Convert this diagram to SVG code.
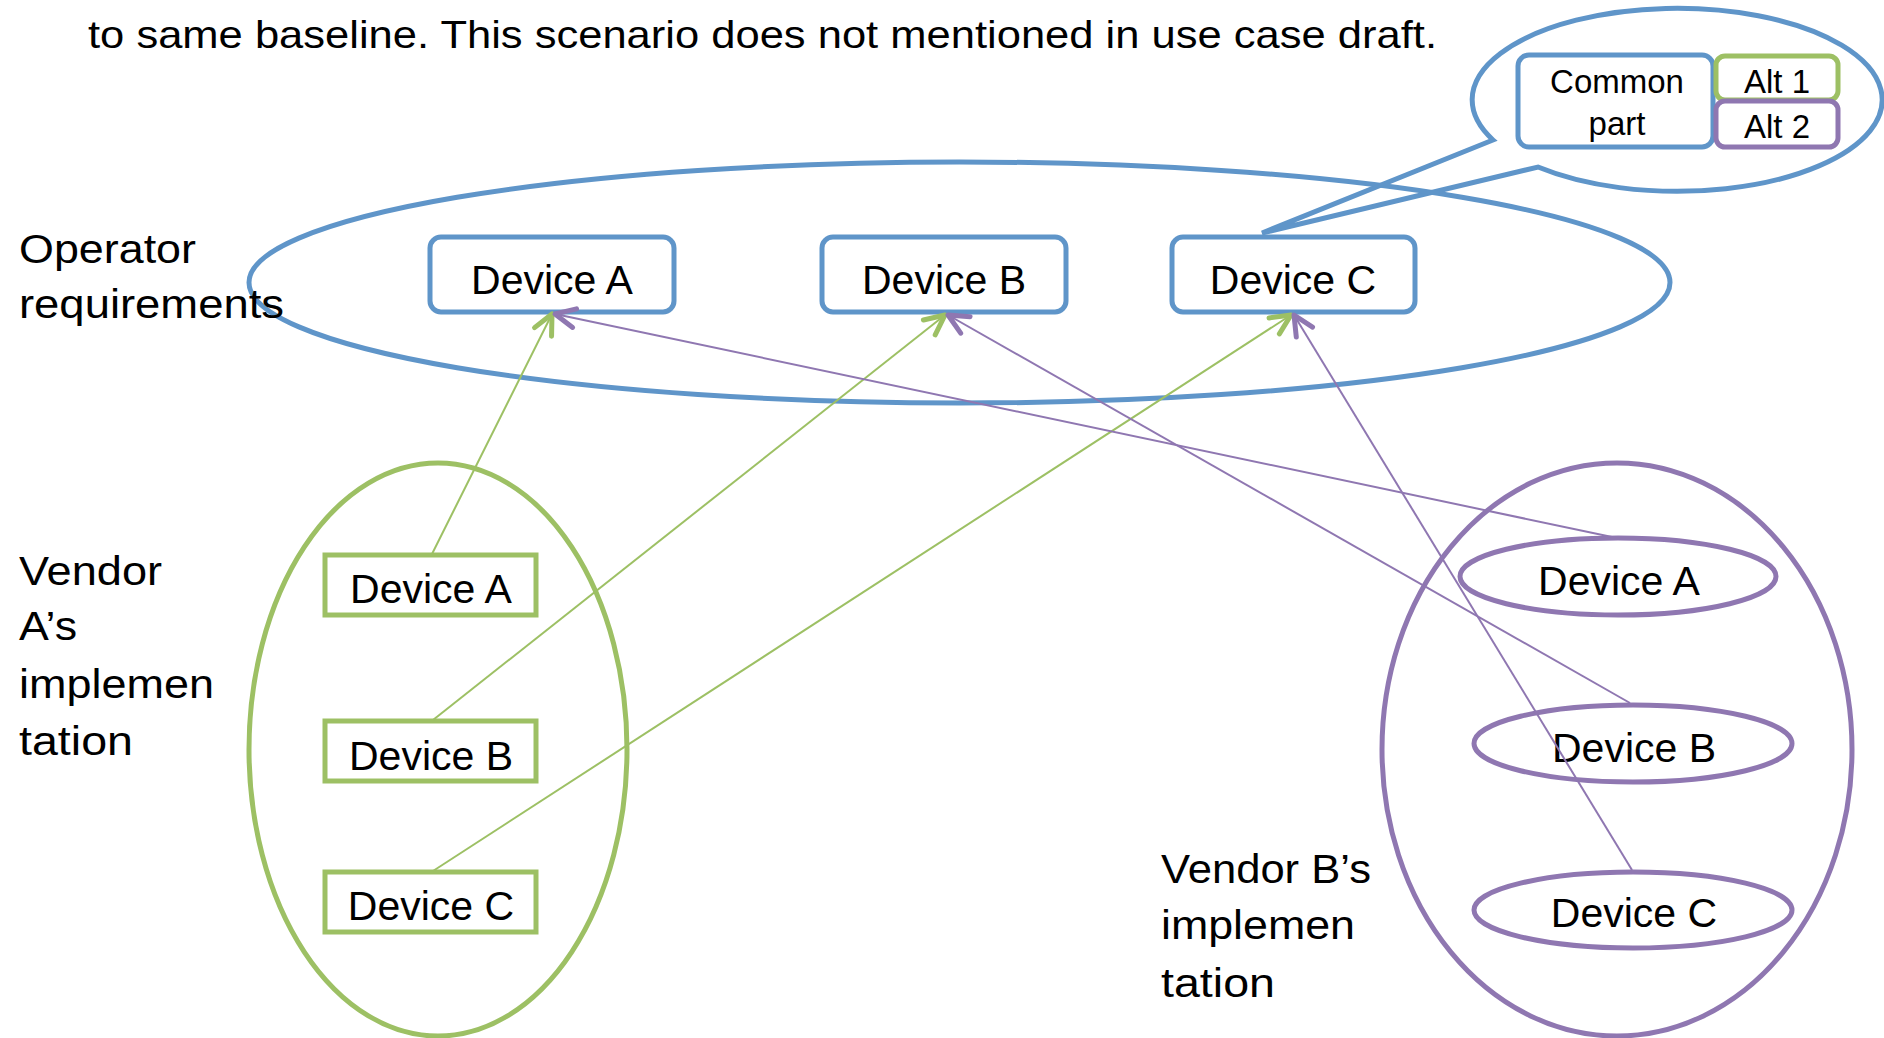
<svg xmlns="http://www.w3.org/2000/svg" width="1884" height="1038" viewBox="0 0 1884 1038">
<defs>
<style>
text{font-family:"Liberation Sans",Arial,sans-serif;fill:#000}
.lbl{font-size:41px}
.dev{font-size:41px;text-anchor:middle}
.small{font-size:33px;text-anchor:middle}
.blue{stroke:#5F95C9;stroke-width:5;fill:none}
.green{stroke:#9DC064;stroke-width:5;fill:none}
.purple{stroke:#8F77B1;stroke-width:5;fill:none}
.boxb{stroke:#5F95C9;stroke-width:5;fill:#fff}
.boxg{stroke:#9DC064;stroke-width:5;fill:#fff}
.gl{stroke:#9DC064;stroke-width:2;fill:none}
.pl{stroke:#8F77B1;stroke-width:2;fill:none}
</style>
<marker id="ag" markerUnits="userSpaceOnUse" viewBox="-24 -14 28 28" refX="0" refY="0" markerWidth="28" markerHeight="28" orient="auto">
<path d="M-20,-9.5 L0,0 L-20,9.5" fill="none" stroke="#9DC064" stroke-width="5" stroke-linecap="round" stroke-linejoin="round"/>
</marker>
<marker id="ap" markerUnits="userSpaceOnUse" viewBox="-24 -14 28 28" refX="0" refY="0" markerWidth="28" markerHeight="28" orient="auto">
<path d="M-20,-9.5 L0,0 L-20,9.5" fill="none" stroke="#8F77B1" stroke-width="5" stroke-linecap="round" stroke-linejoin="round"/>
</marker>
</defs>
<rect width="1884" height="1038" fill="#fff"/>

<text id="caption" x="88" y="48" textLength="1349" lengthAdjust="spacingAndGlyphs" style="font-size:39px">to same baseline. This scenario does not mentioned in use case draft.</text>

<g id="callout">
<path class="blue" d="M1493,140 A205,91.5 0 1 1 1538,167 L1262,233 Z" stroke-linejoin="miter"/>
<g id="common-part">
<rect class="boxb" x="1518" y="55" width="195" height="92" rx="11"/>
<text class="small" x="1617" y="93">Common</text>
<text class="small" x="1617" y="135">part</text>
</g>
<g id="alt1">
<rect class="boxg" x="1716" y="56" width="122" height="44" rx="9"/>
<text class="small" x="1777" y="93">Alt 1</text>
</g>
<g id="alt2">
<rect x="1716" y="101" width="122" height="46" rx="9" fill="#fff" stroke="#8F77B1" stroke-width="5"/>
<text class="small" x="1777" y="138">Alt 2</text>
</g>
</g>

<g id="operator">
<ellipse class="blue" cx="959.5" cy="282.5" rx="710.5" ry="120.5"/>
<text class="lbl" x="19" y="263" textLength="177" lengthAdjust="spacingAndGlyphs">Operator</text>
<text class="lbl" x="19" y="318" textLength="265" lengthAdjust="spacingAndGlyphs">requirements</text>
</g>
<g id="op-device-a">
<rect class="boxb" x="430" y="237" width="244" height="75" rx="11"/>
<text class="dev" x="552" y="294">Device A</text>
</g>
<g id="op-device-b">
<rect class="boxb" x="822" y="237" width="244" height="75" rx="11"/>
<text class="dev" x="944" y="294">Device B</text>
</g>
<g id="op-device-c">
<rect class="boxb" x="1172" y="237" width="243" height="75" rx="11"/>
<text class="dev" x="1293" y="294">Device C</text>
</g>

<g id="vendor-a">
<ellipse class="green" cx="438" cy="749.5" rx="189" ry="286.5"/>
<text class="lbl" x="19" y="585" textLength="143" lengthAdjust="spacingAndGlyphs">Vendor</text>
<text class="lbl" x="19" y="640" textLength="58" lengthAdjust="spacingAndGlyphs">A’s</text>
<text class="lbl" x="19" y="698" textLength="195" lengthAdjust="spacingAndGlyphs">implemen</text>
<text class="lbl" x="19" y="755" textLength="114" lengthAdjust="spacingAndGlyphs">tation</text>
</g>
<g id="va-device-a">
<rect class="boxg" x="325" y="555" width="211" height="60"/>
<text class="dev" x="431" y="603">Device A</text>
</g>
<g id="va-device-b">
<rect class="boxg" x="325" y="721" width="211" height="60"/>
<text class="dev" x="431" y="770">Device B</text>
</g>
<g id="va-device-c">
<rect class="boxg" x="325" y="872" width="211" height="60"/>
<text class="dev" x="431" y="920">Device C</text>
</g>

<g id="vendor-b">
<ellipse class="purple" cx="1617" cy="749.5" rx="235" ry="286.5"/>
<text class="lbl" x="1161" y="883" textLength="210" lengthAdjust="spacingAndGlyphs">Vendor B’s</text>
<text class="lbl" x="1161" y="939" textLength="194" lengthAdjust="spacingAndGlyphs">implemen</text>
<text class="lbl" x="1161" y="997" textLength="114" lengthAdjust="spacingAndGlyphs">tation</text>
</g>
<g id="vb-device-a">
<ellipse class="purple" cx="1618" cy="576.5" rx="158" ry="38.5"/>
<text class="dev" x="1619" y="595">Device A</text>
</g>
<g id="vb-device-b">
<ellipse class="purple" cx="1633" cy="743.5" rx="159" ry="38.5"/>
<text class="dev" x="1634" y="762">Device B</text>
</g>
<g id="vb-device-c">
<ellipse class="purple" cx="1633" cy="910" rx="159" ry="38"/>
<text class="dev" x="1634" y="927">Device C</text>
</g>

<g id="connectors">
<line class="gl" x1="432" y1="554" x2="552" y2="314" marker-end="url(#ag)"/>
<line class="gl" x1="433" y1="720" x2="945" y2="315" marker-end="url(#ag)"/>
<line class="gl" x1="433" y1="871" x2="1291" y2="315" marker-end="url(#ag)"/>
<line class="pl" x1="1612" y1="537" x2="555" y2="314" marker-end="url(#ap)"/>
<line class="pl" x1="1630" y1="703" x2="948" y2="315" marker-end="url(#ap)"/>
<line class="pl" x1="1632" y1="870" x2="1294" y2="315" marker-end="url(#ap)"/>
</g>
</svg>
